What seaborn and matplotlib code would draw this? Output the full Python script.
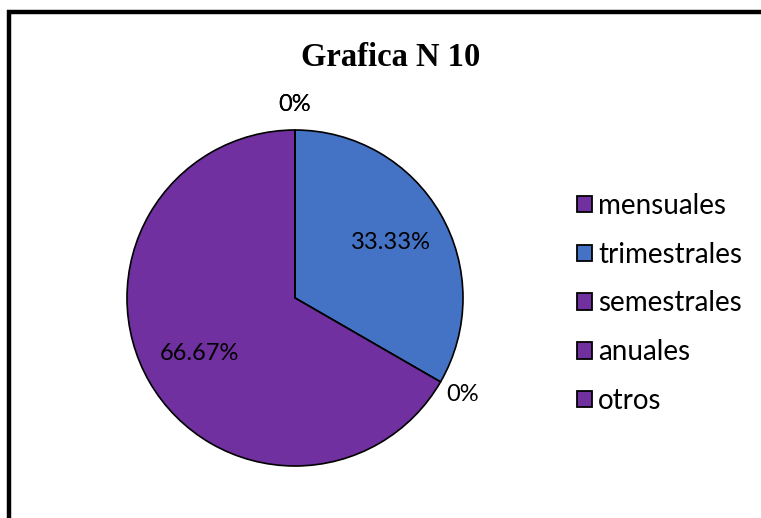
import numpy as np
import matplotlib
matplotlib.use("Agg")
import matplotlib.pyplot as plt
from matplotlib.patches import Rectangle, Patch
import seaborn as sns

# datos de la grafica
categorias = ["mensuales", "trimestrales", "semestrales", "anuales", "otros"]
porcentajes = [0.0, 33.33, 0.0, 66.67, 0.0]
colores = ["#7030A0", "#4472C4", "#7030A0", "#7030A0", "#7030A0"]
titulo = "Grafica N 10"

sns.set_theme(style="white")
plt.rcParams["font.family"] = ["Lato", "DejaVu Sans"]
plt.rcParams["text.color"] = "black"

W, H = 761, 518
fig = plt.figure(figsize=(W / 100, H / 100), dpi=100)
fig.patch.set_facecolor("white")

# marco negro (recortado a la derecha y abajo)
fig.patches.append(Rectangle((8.5 / W, -0.2), 1.5, 1.2 - 11.5 / H, transform=fig.transFigure,
                             fill=False, edgecolor="black", linewidth=3.2))

cx, cy, r = 295, 298, 168
ax = fig.add_axes([(cx - r) / W, (H - cy - r) / H, 2 * r / W, 2 * r / H])

wedges, _ = ax.pie(porcentajes, colors=colores, startangle=90, counterclock=False,
                   wedgeprops=dict(edgecolor="black", linewidth=1.2))
ax.set_xlim(-1, 1)
ax.set_ylim(-1, 1)
ax.set_aspect("equal")
ax.axis("off")

# etiquetas: dentro si hay valor, fuera si es 0%
for w, p in zip(wedges, porcentajes):
    ang = np.deg2rad((w.theta1 + w.theta2) / 2)
    if p > 0:
        d = 0.66
        txt = f"{p:.2f}%"
    else:
        d = 1.15
        txt = "0%"
    ax.text(d * np.cos(ang), d * np.sin(ang), txt, ha="center", va="center",
            fontsize=17, color="black", clip_on=False)

fig.text(391 / W, 1 - 57 / H, titulo, ha="center", va="center", fontsize=23.5,
         fontweight="bold", family="Liberation Serif", color="black")

# leyenda: cuadros de ~15 px, filas cada ~48 px
fs = 20
px = fs * 100 / 72
handles = [Patch(facecolor=c, edgecolor="black", linewidth=1.3) for c in colores]
fig.legend(handles, categorias, loc="upper left", bbox_to_anchor=(563 / W, 1 - 179 / H),
           frameon=False, fontsize=fs, handlelength=15 / px, handleheight=15 / px,
           handletextpad=6 / px, labelspacing=0.82, borderpad=0)

fig.savefig("out.png", dpi=100)
